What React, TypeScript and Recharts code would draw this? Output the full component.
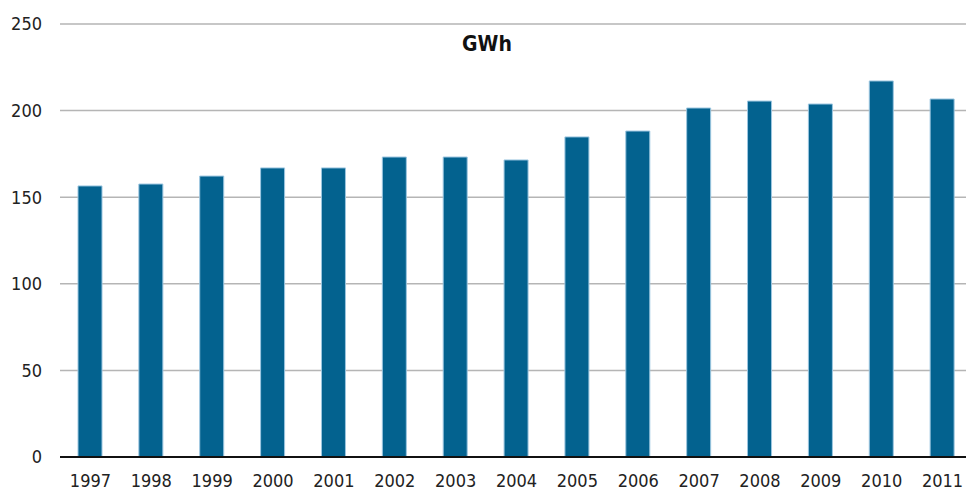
import React from 'react';
import { BarChart, Bar, XAxis, YAxis, CartesianGrid } from 'recharts';

const years = ['1997','1998','1999','2000','2001','2002','2003','2004','2005','2006','2007','2008','2009','2010','2011'];
const gwh = [156.5, 157.6, 162.2, 166.9, 166.9, 173.2, 173.2, 171.5, 184.8, 188.2, 201.5, 205.5, 203.8, 217.1, 206.7];
const yTicks = [0, 50, 100, 150, 200, 250];

const data = years.map((y, i) => ({ year: y, value: gwh[i] }));

const font = '"DejaVu Sans Condensed", sans-serif';

export default function App() {
  return (
    <div style={{ position: 'absolute', left: 0, top: 0, width: 980, height: 491, background: '#fff' }}>
      <BarChart width={980} height={491} data={data} margin={{ top: 24, right: 7, left: 0, bottom: 0 }}>
        <CartesianGrid horizontal vertical={false} stroke="#b5b5b5" strokeWidth={1.5} />
        <XAxis dataKey="year" tickLine={false} tickSize={0} tickMargin={17} height={34}
          axisLine={{ stroke: '#111', strokeWidth: 2 }}
          tick={{ fill: '#222', fontSize: 18, fontFamily: font }} interval={0} />
        <YAxis domain={[0, 250]} ticks={yTicks} width={60} axisLine={false} tickLine={false} tickSize={0} tickMargin={18}
          tick={{ fill: '#222', fontSize: 18, fontFamily: font }} />
        <Bar dataKey="value" fill="#03628F" stroke="#9cc6e0" strokeWidth={1} barSize={24} isAnimationActive={false} />
      </BarChart>
      <div style={{ position: 'absolute', left: 437, top: 32, width: 100, textAlign: 'center', fontFamily: font, fontWeight: 'bold', fontSize: 21, color: '#111' }}>GWh</div>
    </div>
  );
}
